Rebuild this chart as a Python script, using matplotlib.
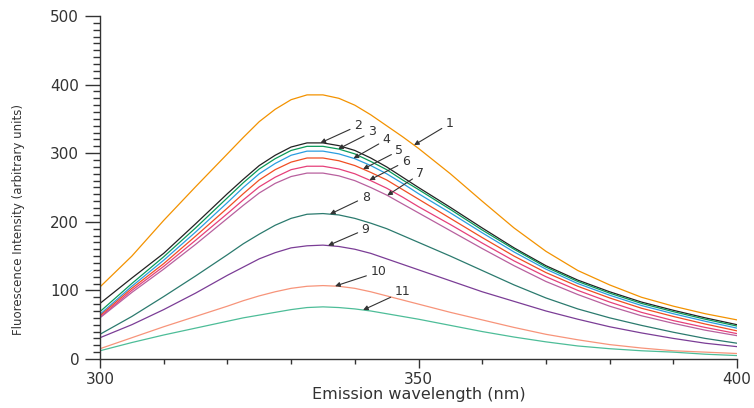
import numpy as np
import matplotlib
matplotlib.use("Agg")
import matplotlib.pyplot as plt
from matplotlib.ticker import MultipleLocator

# emission spectra (nm); finer steps around the maximum
wavelength = [300, 305, 310, 315, 320, 322.5, 325, 327.5, 330, 332.5, 335,
              337.5, 340, 342.5, 345, 347.5, 350, 355, 360, 365, 370,
              375, 380, 385, 390, 395, 400]

spectra = {
    "1": [105, 150, 202, 251, 299, 323, 346, 364, 378, 385, 385,
          380, 370, 356, 340, 324, 307, 270, 230, 191, 157,
          129, 108, 90, 77, 66, 57],
    "2": [81, 118, 154, 197, 241, 262, 282, 297, 309, 315, 315,
          311, 304, 293, 280, 265, 250, 221, 191, 162, 136,
          115, 98, 83, 71, 60, 50],
    "3": [69, 110, 149, 191, 235, 257, 277, 292, 304, 310, 310,
          306, 299, 288, 276, 261, 247, 218, 188, 160, 134,
          113, 96, 81, 69, 58, 48],
    "4": [65, 106, 144, 185, 228, 250, 270, 285, 297, 303, 303,
          299, 292, 282, 270, 256, 241, 213, 184, 156, 131,
          110, 93, 78, 66, 55, 45],
    "5": [63, 103, 139, 179, 220, 241, 261, 276, 287, 293, 293,
          289, 282, 272, 261, 247, 233, 205, 177, 150, 126,
          106, 89, 74, 62, 51, 41],
    "6": [61, 100, 135, 173, 212, 232, 251, 265, 276, 281, 281,
          277, 270, 260, 249, 236, 222, 196, 169, 143, 120,
          100, 83, 68, 56, 46, 37],
    "7": [60, 97, 131, 167, 205, 224, 242, 256, 266, 271, 271,
          267, 260, 250, 239, 226, 213, 187, 161, 136, 113,
          94, 77, 63, 52, 42, 34],
    "8": [36, 62, 91, 121, 152, 168, 182, 195, 205, 211, 212,
          210, 205, 198, 190, 180, 170, 150, 129, 108, 89,
          73, 60, 49, 39, 30, 23],
    "9": [31, 50, 72, 96, 122, 134, 146, 155, 162, 165, 166,
          164, 160, 154, 146, 138, 130, 114, 98, 84, 70,
          58, 47, 38, 30, 23, 18],
    "10": [15, 31, 47, 62, 77, 85, 92, 98, 103, 106, 107,
           106, 103, 98, 92, 86, 80, 68, 57, 46, 36,
           28, 21, 16, 12, 10, 8],
    "11": [12, 24, 35, 45, 55, 60, 64, 68, 72, 75, 76,
           75, 73, 70, 66, 62, 58, 49, 40, 32, 25,
           19, 15, 12, 10, 7, 5],
}

colors = ["#f39200", "#222222", "#0a9a5a", "#2a9de0", "#f04e23", "#e6407a",
          "#b8609e", "#2b7a6e", "#7b3d96", "#f7947a", "#4dbd98"]

# where each arrow hits its curve (nm) and where its number sits (nm, value)
arrow_x = [349.3, 334.6, 337.4, 339.8, 341.3, 342.3, 345.1, 336.1, 335.8, 336.9, 341.3]
label_xy = [(354.9, 343), (340.5, 340), (342.7, 331), (345.0, 320), (347.0, 304),
            (348.0, 288), (350.3, 270), (341.7, 236), (341.7, 189), (343.7, 127),
            (347.5, 98)]


def main():
    fig = plt.figure(figsize=(7.54, 4.08), dpi=100)
    ax = fig.add_axes([0.1326, 0.1201, 0.8449, 0.8407])

    for (name, vals), col in zip(spectra.items(), colors):
        ax.plot(wavelength, vals, color=col, lw=0.9)

    for (name, vals), ax_x, (tx, ty) in zip(spectra.items(), arrow_x, label_xy):
        ay = np.interp(ax_x, wavelength, vals)
        ax.annotate(name, xy=(ax_x, ay), xytext=(tx, ty), ha="center", va="center",
                    fontsize=9, color="#333333",
                    arrowprops=dict(arrowstyle="-|>", color="#333333", lw=0.8,
                                    mutation_scale=7, shrinkA=1, shrinkB=0))

    ax.set_xlim(300, 400)
    ax.set_ylim(0, 500)
    ax.xaxis.set_major_locator(MultipleLocator(50))
    ax.xaxis.set_minor_locator(MultipleLocator(10))
    ax.yaxis.set_major_locator(MultipleLocator(100))
    ax.yaxis.set_minor_locator(MultipleLocator(10))

    for side in ["top", "right"]:
        ax.spines[side].set_visible(False)
    for side in ["left", "bottom"]:
        ax.spines[side].set_linewidth(1.0)
        ax.spines[side].set_color("#333333")

    ax.tick_params(which="both", color="#333333", labelcolor="#333333")
    ax.tick_params(axis="y", which="major", length=11, width=1, pad=4, labelsize=11)
    ax.tick_params(axis="y", which="minor", length=5, width=1)
    ax.tick_params(axis="x", which="major", length=6.5, width=1, pad=3, labelsize=11)
    ax.tick_params(axis="x", which="minor", length=3.5, width=1)

    ax.set_xlabel("Emission wavelength (nm)", fontsize=11.5, labelpad=0,
                  color="#333333")
    ax.set_ylabel("Fluorescence Intensity (arbitrary units)", fontsize=8.5,
                  color="#333333")
    ax.yaxis.set_label_coords(-0.118, 0.408)

    fig.savefig("out.png", dpi=100)


if __name__ == "__main__":
    main()
